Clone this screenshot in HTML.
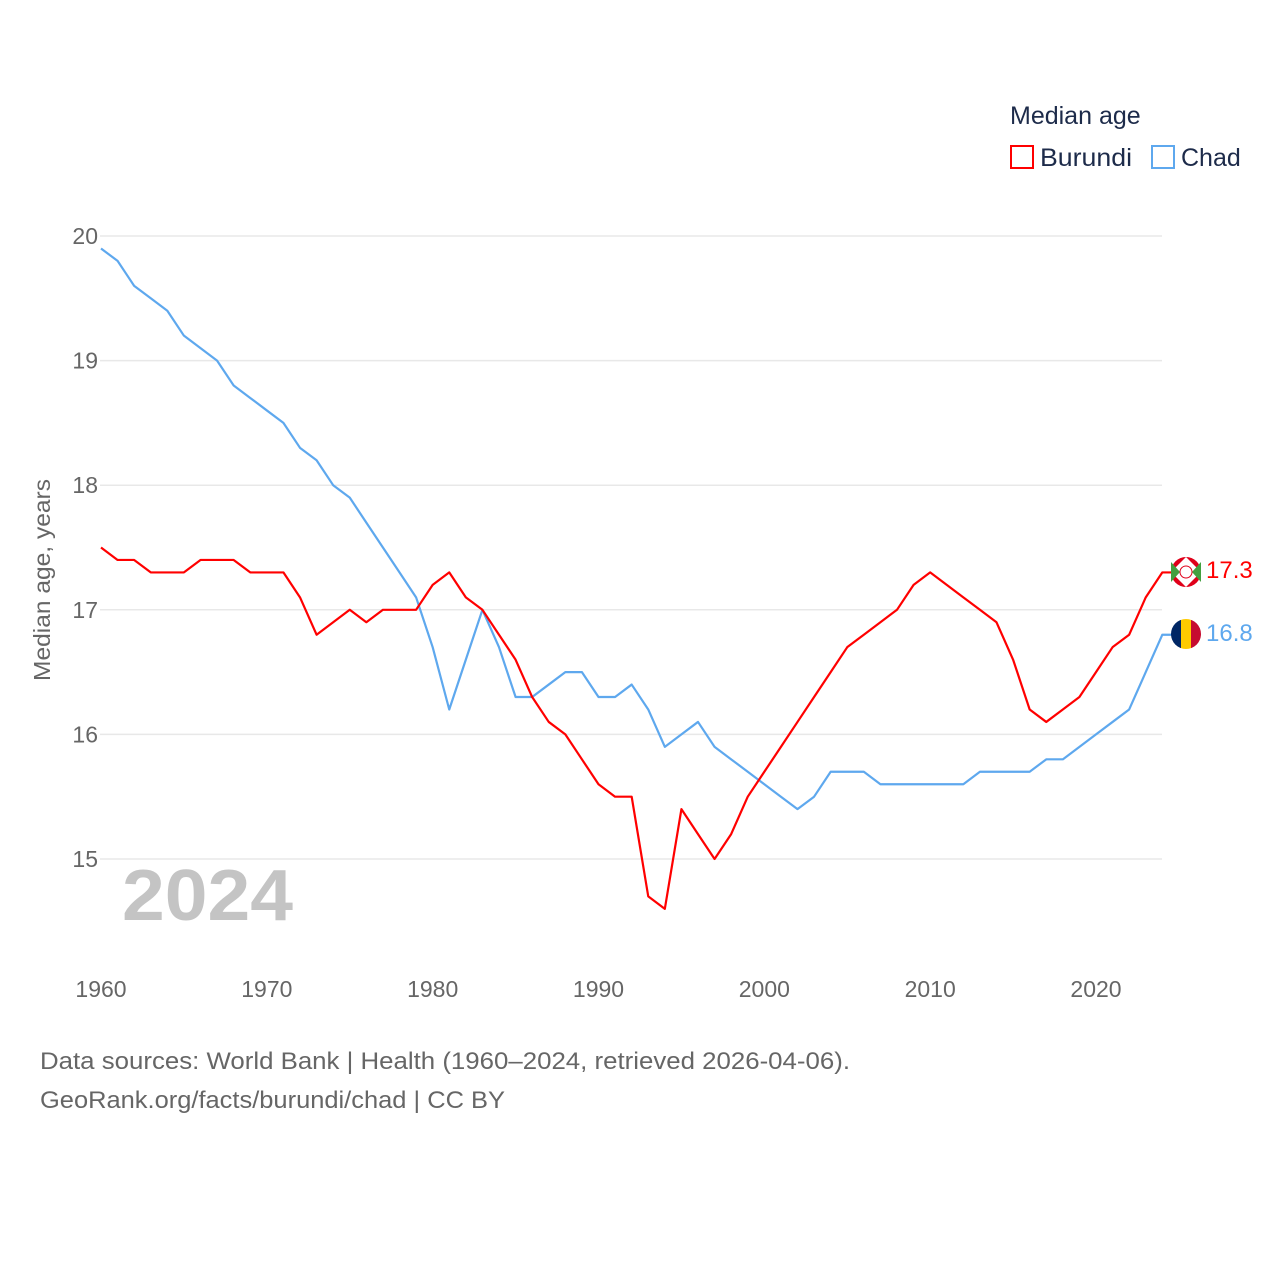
<!DOCTYPE html>
<html><head><meta charset="utf-8"><style>
body{margin:0;background:#fff;font-family:"Liberation Sans",sans-serif;}
svg text{font-family:"Liberation Sans",sans-serif;}
</style></head><body>
<svg id="chart" width="1280" height="1280" viewBox="0 0 1280 1280" xmlns="http://www.w3.org/2000/svg">
<g id="grid"></g><g id="lines"></g>
<text x="122" y="920" font-size="72" font-weight="bold" fill="#c4c4c4" textLength="171" lengthAdjust="spacingAndGlyphs">2024</text>
<text transform="translate(50,580) rotate(-90)" text-anchor="middle" font-size="23" fill="#666" textLength="202" lengthAdjust="spacingAndGlyphs">Median age, years</text>
<text x="1010" y="124" font-size="25" fill="#1d2b4a">Median age</text>
<rect x="1011" y="146" width="22" height="22" fill="none" stroke="#ff0000" stroke-width="2"/>
<text x="1040" y="166" font-size="25" fill="#1d2b4a" textLength="92" lengthAdjust="spacingAndGlyphs">Burundi</text>
<rect x="1152" y="146" width="22" height="22" fill="none" stroke="#5ea8ee" stroke-width="2"/>
<text x="1181" y="166" font-size="25" fill="#1d2b4a">Chad</text>
<g>
<circle cx="1186" cy="572" r="15" fill="#e0001a"/><path d="M1171 572 L1186 557 L1201 572 L1186 587Z" fill="#fff"/>
<path d="M1171 562 L1180 572 L1171 582Z M1201 562 L1192 572 L1201 582Z" fill="#43a040"/><circle cx="1186" cy="572" r="6" fill="#fff" stroke="#e0001a" stroke-width="1"/></g>
<g>
<clipPath id="cc"><circle cx="1186" cy="634" r="15"/></clipPath>
<g clip-path="url(#cc)"><rect x="1171" y="619" width="10" height="30" fill="#002664"/><rect x="1181" y="619" width="10" height="30" fill="#fecb00"/><rect x="1191" y="619" width="10" height="30" fill="#c60c30"/></g></g>
<text x="1206" y="578" font-size="24" fill="#ff0000">17.3</text>
<text x="1206" y="641" font-size="24" fill="#5ea8ee">16.8</text>
<text x="40" y="1069" font-size="24" fill="#666" textLength="810" lengthAdjust="spacingAndGlyphs">Data sources: World Bank | Health (1960–2024, retrieved 2026-04-06).</text>
<text x="40" y="1108" font-size="24" fill="#666" textLength="465" lengthAdjust="spacingAndGlyphs">GeoRank.org/facts/burundi/chad | CC BY</text>
</svg>
<script>
const years=[];for(let y=1960;y<=2024;y++)years.push(y);
const burundi=[17.5,17.4,17.4,17.3,17.3,17.3,17.4,17.4,17.4,17.3,17.3,17.3,17.1,16.8,16.9,17.0,16.9,17.0,17.0,17.0,17.2,17.3,17.1,17.0,16.8,16.6,16.3,16.1,16.0,15.8,15.6,15.5,15.5,14.7,14.6,15.4,15.2,15.0,15.2,15.5,15.7,15.9,16.1,16.3,16.5,16.7,16.8,16.9,17.0,17.2,17.3,17.2,17.1,17.0,16.9,16.6,16.2,16.1,16.2,16.3,16.5,16.7,16.8,17.1,17.3];
const chad=[19.9,19.8,19.6,19.5,19.4,19.2,19.1,19.0,18.8,18.7,18.6,18.5,18.3,18.2,18.0,17.9,17.7,17.5,17.3,17.1,16.7,16.2,16.6,17.0,16.7,16.3,16.3,16.4,16.5,16.5,16.3,16.3,16.4,16.2,15.9,16.0,16.1,15.9,15.8,15.7,15.6,15.5,15.4,15.5,15.7,15.7,15.7,15.6,15.6,15.6,15.6,15.6,15.6,15.7,15.7,15.7,15.7,15.8,15.8,15.9,16.0,16.1,16.2,16.5,16.8];
const yTicks=[15,16,17,18,19,20];
const xTicks=[1960,1970,1980,1990,2000,2010,2020];
const sx=y=>101+(y-1960)*(1096-101)/60;
const sy=v=>859-(v-15)*(859-236)/5;
const NS="http://www.w3.org/2000/svg";
const grid=document.getElementById('grid'),lines=document.getElementById('lines');
yTicks.forEach(t=>{
 const l=document.createElementNS(NS,'line');
 l.setAttribute('x1',100);l.setAttribute('x2',1162);l.setAttribute('y1',sy(t));l.setAttribute('y2',sy(t));
 l.setAttribute('stroke','#e8e8e8');l.setAttribute('stroke-width','1.5');
 
 
 grid.appendChild(l);
 const tx=document.createElementNS(NS,'text');
 tx.setAttribute('x',98);tx.setAttribute('y',sy(t)+8);tx.setAttribute('text-anchor','end');
 tx.setAttribute('font-size','23');tx.setAttribute('fill','#666');tx.textContent=t;
 
 
 grid.appendChild(tx);
});
xTicks.forEach(t=>{
 const tx=document.createElementNS(NS,'text');
 tx.setAttribute('x',sx(t));tx.setAttribute('y',997);tx.setAttribute('text-anchor','middle');
 tx.setAttribute('font-size','23');tx.setAttribute('fill','#666');tx.textContent=t;
 
 
 grid.appendChild(tx);
});
function draw(data,color,name){
 const pts=data.map((v,i)=>sx(years[i])+','+sy(v));
 pts.push((sx(years[years.length-1])+9)+','+sy(data[data.length-1]));
 const p=document.createElementNS(NS,'polyline');
 p.setAttribute('points',pts.join(' '));
 p.setAttribute('fill','none');p.setAttribute('stroke',color);p.setAttribute('stroke-width','2.2');
 p.setAttribute('stroke-linejoin','round');
 
 
 lines.appendChild(p);
}
draw(chad,'#5ea8ee','line-chad');
draw(burundi,'#ff0000','line-burundi');
</script>
</body></html>
